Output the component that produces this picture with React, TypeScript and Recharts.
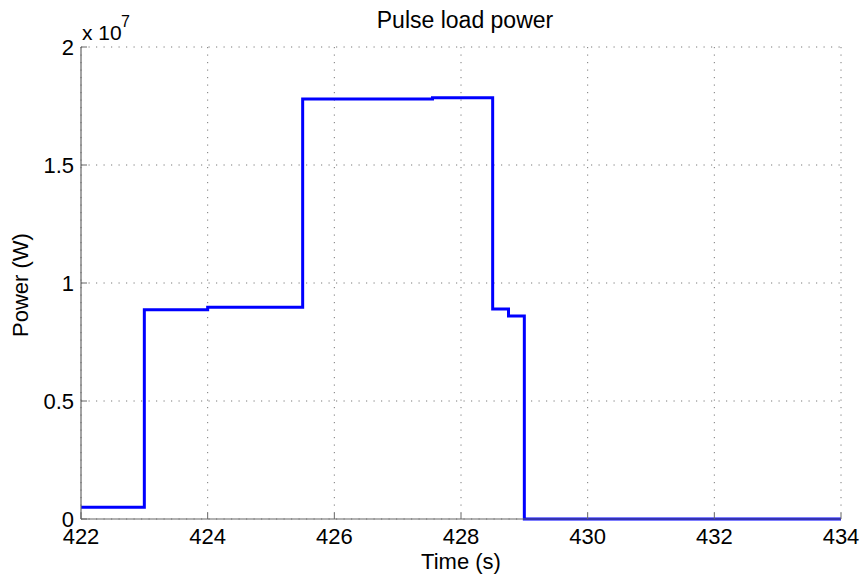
import React from "react";
import { LineChart, Line, XAxis, YAxis, CartesianGrid } from "recharts";

const times = [422, 423, 424, 425.5, 427.55, 428.5, 428.75, 429, 434];
const power = [5.0e5, 8.87e6, 8.97e6, 17.8e6, 17.85e6, 8.9e6, 8.6e6, 0, 0];
const xTicks = [422, 424, 426, 428, 430, 432, 434];
const yTicks = [0, 0.5e7, 1e7, 1.5e7, 2e7];
const yTickLabels = ["0", "0.5", "1", "1.5", "2"];

const data = times.map((t, i) => ({ t, p: power[i] }));

const FONT = "'Liberation Sans', Arial, sans-serif";
const AXIS = "#666";

export default function App() {
  return (
    <div style={{ position: "absolute", left: 0, top: 0, width: 862, height: 576, background: "#fff", fontFamily: FONT }}>
      <LineChart
        width={862}
        height={576}
        data={data}
        margin={{ top: 47, right: 21, left: 0, bottom: 0 }}
      >
        <CartesianGrid stroke="#555" strokeDasharray="1.2 6.3" strokeWidth={0.8} />
        <XAxis
          dataKey="t"
          type="number"
          domain={[422, 434]}
          ticks={xTicks}
          height={57}
          tick={{ fill: "#000", fontSize: 22, fontFamily: FONT }}
          tickLine={{ stroke: AXIS }}
          tickSize={-6}
          tickMargin={15}
          axisLine={{ stroke: AXIS, strokeWidth: 1.2 }}
          interval={0}
        />
        <XAxis
          xAxisId="top"
          orientation="top"
          dataKey="t"
          type="number"
          domain={[422, 434]}
          ticks={xTicks}
          height={0}
          tick={false}
          tickLine={{ stroke: AXIS }}
          tickSize={-6}
          axisLine={{ stroke: AXIS, strokeWidth: 1.2 }}
          interval={0}
        />
        <YAxis
          type="number"
          domain={[0, 2e7]}
          ticks={yTicks}
          width={81}
          tick={{ fill: "#000", fontSize: 22, fontFamily: FONT }}
          tickFormatter={(v: number) => yTickLabels[yTicks.indexOf(v)] ?? ""}
          tickLine={{ stroke: AXIS }}
          tickSize={-6}
          tickMargin={13}
          axisLine={{ stroke: AXIS, strokeWidth: 1.2 }}
          interval={0}
        />
        <YAxis
          yAxisId="right"
          orientation="right"
          type="number"
          domain={[0, 2e7]}
          ticks={yTicks}
          width={0}
          tick={false}
          tickLine={{ stroke: AXIS }}
          tickSize={-6}
          axisLine={{ stroke: AXIS, strokeWidth: 1.2 }}
          interval={0}
        />
        <Line
          type="stepAfter"
          dataKey="p"
          stroke="#0000ff"
          strokeWidth={3}
          dot={false}
          isAnimationActive={false}
        />
        <text x={465} y={28} textAnchor="middle" style={{ fontSize: 23, fontFamily: FONT, fill: "#000" }}>
          Pulse load power
        </text>
        <text x={461} y={569} textAnchor="middle" style={{ fontSize: 22, fontFamily: FONT, fill: "#000" }}>
          Time (s)
        </text>
        <text x={28} y={285} textAnchor="middle" transform="rotate(-90 28 285)" style={{ fontSize: 22, fontFamily: FONT, fill: "#000" }}>
          Power (W)
        </text>
        <text x={82} y={40} style={{ fontSize: 21, fontFamily: FONT, fill: "#000" }}>
          x 10
        </text>
        <text x={121} y={27} style={{ fontSize: 16, fontFamily: FONT, fill: "#000" }}>
          7
        </text>
      </LineChart>
    </div>
  );
}
